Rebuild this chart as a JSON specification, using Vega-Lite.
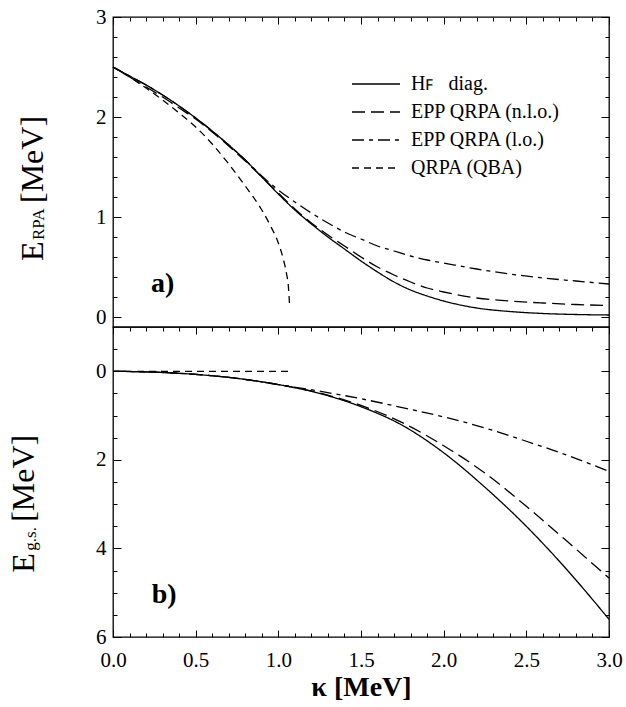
{
  "$schema": "https://vega.github.io/schema/vega-lite/v6.json",
  "background": "white",
  "padding": {"left": 7, "top": 5, "right": 5, "bottom": 5},
  "bounds": "flush",
  "config": {
    "view": {"stroke": "black", "strokeWidth": 1.3},
    "font": "Liberation Serif",
    "axis": {"domain": false, "grid": false, "tickColor": "black", "tickWidth": 1, "labelColor": "black", "labelFont": "Liberation Serif", "labelFontSize": 21, "labelFlush": false, "titleColor": "black"},
    "legend": {"labelFont": "Liberation Serif", "labelFontSize": 20, "labelColor": "black"}
  },
  "datasets": {
    "top": [
      {"kappa": 0, "E": 2.50, "series": "Hꜰ\u00a0\u00a0\u00a0diag."},
      {"kappa": 0.1, "E": 2.41, "series": "Hꜰ\u00a0\u00a0\u00a0diag."},
      {"kappa": 0.2, "E": 2.32, "series": "Hꜰ\u00a0\u00a0\u00a0diag."},
      {"kappa": 0.3, "E": 2.22, "series": "Hꜰ\u00a0\u00a0\u00a0diag."},
      {"kappa": 0.4, "E": 2.11, "series": "Hꜰ\u00a0\u00a0\u00a0diag."},
      {"kappa": 0.5, "E": 1.99, "series": "Hꜰ\u00a0\u00a0\u00a0diag."},
      {"kappa": 0.6, "E": 1.86, "series": "Hꜰ\u00a0\u00a0\u00a0diag."},
      {"kappa": 0.7, "E": 1.72, "series": "Hꜰ\u00a0\u00a0\u00a0diag."},
      {"kappa": 0.8, "E": 1.57, "series": "Hꜰ\u00a0\u00a0\u00a0diag."},
      {"kappa": 0.9, "E": 1.40, "series": "Hꜰ\u00a0\u00a0\u00a0diag."},
      {"kappa": 1.0, "E": 1.23, "series": "Hꜰ\u00a0\u00a0\u00a0diag."},
      {"kappa": 1.1, "E": 1.07, "series": "Hꜰ\u00a0\u00a0\u00a0diag."},
      {"kappa": 1.2, "E": 0.93, "series": "Hꜰ\u00a0\u00a0\u00a0diag."},
      {"kappa": 1.3, "E": 0.80, "series": "Hꜰ\u00a0\u00a0\u00a0diag."},
      {"kappa": 1.4, "E": 0.68, "series": "Hꜰ\u00a0\u00a0\u00a0diag."},
      {"kappa": 1.5, "E": 0.56, "series": "Hꜰ\u00a0\u00a0\u00a0diag."},
      {"kappa": 1.6, "E": 0.45, "series": "Hꜰ\u00a0\u00a0\u00a0diag."},
      {"kappa": 1.7, "E": 0.35, "series": "Hꜰ\u00a0\u00a0\u00a0diag."},
      {"kappa": 1.8, "E": 0.27, "series": "Hꜰ\u00a0\u00a0\u00a0diag."},
      {"kappa": 1.9, "E": 0.21, "series": "Hꜰ\u00a0\u00a0\u00a0diag."},
      {"kappa": 2.0, "E": 0.16, "series": "Hꜰ\u00a0\u00a0\u00a0diag."},
      {"kappa": 2.2, "E": 0.09, "series": "Hꜰ\u00a0\u00a0\u00a0diag."},
      {"kappa": 2.4, "E": 0.055, "series": "Hꜰ\u00a0\u00a0\u00a0diag."},
      {"kappa": 2.6, "E": 0.035, "series": "Hꜰ\u00a0\u00a0\u00a0diag."},
      {"kappa": 2.8, "E": 0.025, "series": "Hꜰ\u00a0\u00a0\u00a0diag."},
      {"kappa": 3.0, "E": 0.02, "series": "Hꜰ\u00a0\u00a0\u00a0diag."},
      {"kappa": 0, "E": 2.50, "series": "EPP QRPA (n.l.o.)"},
      {"kappa": 0.1, "E": 2.40, "series": "EPP QRPA (n.l.o.)"},
      {"kappa": 0.2, "E": 2.30, "series": "EPP QRPA (n.l.o.)"},
      {"kappa": 0.3, "E": 2.20, "series": "EPP QRPA (n.l.o.)"},
      {"kappa": 0.4, "E": 2.09, "series": "EPP QRPA (n.l.o.)"},
      {"kappa": 0.5, "E": 1.98, "series": "EPP QRPA (n.l.o.)"},
      {"kappa": 0.6, "E": 1.85, "series": "EPP QRPA (n.l.o.)"},
      {"kappa": 0.7, "E": 1.71, "series": "EPP QRPA (n.l.o.)"},
      {"kappa": 0.8, "E": 1.56, "series": "EPP QRPA (n.l.o.)"},
      {"kappa": 0.9, "E": 1.40, "series": "EPP QRPA (n.l.o.)"},
      {"kappa": 1.0, "E": 1.24, "series": "EPP QRPA (n.l.o.)"},
      {"kappa": 1.1, "E": 1.08, "series": "EPP QRPA (n.l.o.)"},
      {"kappa": 1.2, "E": 0.94, "series": "EPP QRPA (n.l.o.)"},
      {"kappa": 1.3, "E": 0.82, "series": "EPP QRPA (n.l.o.)"},
      {"kappa": 1.4, "E": 0.71, "series": "EPP QRPA (n.l.o.)"},
      {"kappa": 1.5, "E": 0.60, "series": "EPP QRPA (n.l.o.)"},
      {"kappa": 1.6, "E": 0.50, "series": "EPP QRPA (n.l.o.)"},
      {"kappa": 1.7, "E": 0.42, "series": "EPP QRPA (n.l.o.)"},
      {"kappa": 1.8, "E": 0.35, "series": "EPP QRPA (n.l.o.)"},
      {"kappa": 1.9, "E": 0.29, "series": "EPP QRPA (n.l.o.)"},
      {"kappa": 2.0, "E": 0.25, "series": "EPP QRPA (n.l.o.)"},
      {"kappa": 2.2, "E": 0.19, "series": "EPP QRPA (n.l.o.)"},
      {"kappa": 2.4, "E": 0.16, "series": "EPP QRPA (n.l.o.)"},
      {"kappa": 2.6, "E": 0.14, "series": "EPP QRPA (n.l.o.)"},
      {"kappa": 2.8, "E": 0.125, "series": "EPP QRPA (n.l.o.)"},
      {"kappa": 3.0, "E": 0.115, "series": "EPP QRPA (n.l.o.)"},
      {"kappa": 0, "E": 2.50, "series": "EPP QRPA (l.o.)"},
      {"kappa": 0.1, "E": 2.41, "series": "EPP QRPA (l.o.)"},
      {"kappa": 0.2, "E": 2.32, "series": "EPP QRPA (l.o.)"},
      {"kappa": 0.3, "E": 2.22, "series": "EPP QRPA (l.o.)"},
      {"kappa": 0.4, "E": 2.11, "series": "EPP QRPA (l.o.)"},
      {"kappa": 0.5, "E": 1.99, "series": "EPP QRPA (l.o.)"},
      {"kappa": 0.6, "E": 1.86, "series": "EPP QRPA (l.o.)"},
      {"kappa": 0.7, "E": 1.72, "series": "EPP QRPA (l.o.)"},
      {"kappa": 0.8, "E": 1.57, "series": "EPP QRPA (l.o.)"},
      {"kappa": 0.9, "E": 1.41, "series": "EPP QRPA (l.o.)"},
      {"kappa": 1.0, "E": 1.27, "series": "EPP QRPA (l.o.)"},
      {"kappa": 1.1, "E": 1.15, "series": "EPP QRPA (l.o.)"},
      {"kappa": 1.2, "E": 1.04, "series": "EPP QRPA (l.o.)"},
      {"kappa": 1.3, "E": 0.94, "series": "EPP QRPA (l.o.)"},
      {"kappa": 1.4, "E": 0.85, "series": "EPP QRPA (l.o.)"},
      {"kappa": 1.5, "E": 0.78, "series": "EPP QRPA (l.o.)"},
      {"kappa": 1.6, "E": 0.71, "series": "EPP QRPA (l.o.)"},
      {"kappa": 1.7, "E": 0.66, "series": "EPP QRPA (l.o.)"},
      {"kappa": 1.8, "E": 0.61, "series": "EPP QRPA (l.o.)"},
      {"kappa": 1.9, "E": 0.57, "series": "EPP QRPA (l.o.)"},
      {"kappa": 2.0, "E": 0.54, "series": "EPP QRPA (l.o.)"},
      {"kappa": 2.2, "E": 0.48, "series": "EPP QRPA (l.o.)"},
      {"kappa": 2.4, "E": 0.43, "series": "EPP QRPA (l.o.)"},
      {"kappa": 2.6, "E": 0.39, "series": "EPP QRPA (l.o.)"},
      {"kappa": 2.8, "E": 0.36, "series": "EPP QRPA (l.o.)"},
      {"kappa": 3.0, "E": 0.33, "series": "EPP QRPA (l.o.)"},
      {"kappa": 0, "E": 2.50, "series": "QRPA (QBA)"},
      {"kappa": 0.1, "E": 2.40, "series": "QRPA (QBA)"},
      {"kappa": 0.2, "E": 2.29, "series": "QRPA (QBA)"},
      {"kappa": 0.3, "E": 2.17, "series": "QRPA (QBA)"},
      {"kappa": 0.4, "E": 2.04, "series": "QRPA (QBA)"},
      {"kappa": 0.5, "E": 1.90, "series": "QRPA (QBA)"},
      {"kappa": 0.6, "E": 1.73, "series": "QRPA (QBA)"},
      {"kappa": 0.7, "E": 1.53, "series": "QRPA (QBA)"},
      {"kappa": 0.8, "E": 1.31, "series": "QRPA (QBA)"},
      {"kappa": 0.9, "E": 1.07, "series": "QRPA (QBA)"},
      {"kappa": 0.95, "E": 0.92, "series": "QRPA (QBA)"},
      {"kappa": 1.0, "E": 0.74, "series": "QRPA (QBA)"},
      {"kappa": 1.03, "E": 0.58, "series": "QRPA (QBA)"},
      {"kappa": 1.05, "E": 0.43, "series": "QRPA (QBA)"},
      {"kappa": 1.06, "E": 0.32, "series": "QRPA (QBA)"},
      {"kappa": 1.068, "E": 0.12, "series": "QRPA (QBA)"}
    ],
    "bottom": [
      {"kappa": 0, "E": 0, "series": "Hꜰ\u00a0\u00a0\u00a0diag."},
      {"kappa": 0.25, "E": 0.02, "series": "Hꜰ\u00a0\u00a0\u00a0diag."},
      {"kappa": 0.5, "E": 0.07, "series": "Hꜰ\u00a0\u00a0\u00a0diag."},
      {"kappa": 0.75, "E": 0.16, "series": "Hꜰ\u00a0\u00a0\u00a0diag."},
      {"kappa": 1.0, "E": 0.30, "series": "Hꜰ\u00a0\u00a0\u00a0diag."},
      {"kappa": 1.25, "E": 0.50, "series": "Hꜰ\u00a0\u00a0\u00a0diag."},
      {"kappa": 1.5, "E": 0.80, "series": "Hꜰ\u00a0\u00a0\u00a0diag."},
      {"kappa": 1.75, "E": 1.22, "series": "Hꜰ\u00a0\u00a0\u00a0diag."},
      {"kappa": 2.0, "E": 1.84, "series": "Hꜰ\u00a0\u00a0\u00a0diag."},
      {"kappa": 2.25, "E": 2.62, "series": "Hꜰ\u00a0\u00a0\u00a0diag."},
      {"kappa": 2.5, "E": 3.50, "series": "Hꜰ\u00a0\u00a0\u00a0diag."},
      {"kappa": 2.75, "E": 4.50, "series": "Hꜰ\u00a0\u00a0\u00a0diag."},
      {"kappa": 3.0, "E": 5.60, "series": "Hꜰ\u00a0\u00a0\u00a0diag."},
      {"kappa": 0, "E": 0, "series": "EPP QRPA (n.l.o.)"},
      {"kappa": 0.25, "E": 0.02, "series": "EPP QRPA (n.l.o.)"},
      {"kappa": 0.5, "E": 0.07, "series": "EPP QRPA (n.l.o.)"},
      {"kappa": 0.75, "E": 0.16, "series": "EPP QRPA (n.l.o.)"},
      {"kappa": 1.0, "E": 0.30, "series": "EPP QRPA (n.l.o.)"},
      {"kappa": 1.25, "E": 0.49, "series": "EPP QRPA (n.l.o.)"},
      {"kappa": 1.5, "E": 0.77, "series": "EPP QRPA (n.l.o.)"},
      {"kappa": 1.75, "E": 1.16, "series": "EPP QRPA (n.l.o.)"},
      {"kappa": 2.0, "E": 1.68, "series": "EPP QRPA (n.l.o.)"},
      {"kappa": 2.25, "E": 2.30, "series": "EPP QRPA (n.l.o.)"},
      {"kappa": 2.5, "E": 3.05, "series": "EPP QRPA (n.l.o.)"},
      {"kappa": 2.75, "E": 3.85, "series": "EPP QRPA (n.l.o.)"},
      {"kappa": 3.0, "E": 4.67, "series": "EPP QRPA (n.l.o.)"},
      {"kappa": 0, "E": 0, "series": "EPP QRPA (l.o.)"},
      {"kappa": 0.25, "E": 0.02, "series": "EPP QRPA (l.o.)"},
      {"kappa": 0.5, "E": 0.07, "series": "EPP QRPA (l.o.)"},
      {"kappa": 0.75, "E": 0.16, "series": "EPP QRPA (l.o.)"},
      {"kappa": 1.0, "E": 0.30, "series": "EPP QRPA (l.o.)"},
      {"kappa": 1.25, "E": 0.45, "series": "EPP QRPA (l.o.)"},
      {"kappa": 1.5, "E": 0.62, "series": "EPP QRPA (l.o.)"},
      {"kappa": 1.75, "E": 0.82, "series": "EPP QRPA (l.o.)"},
      {"kappa": 2.0, "E": 1.03, "series": "EPP QRPA (l.o.)"},
      {"kappa": 2.25, "E": 1.28, "series": "EPP QRPA (l.o.)"},
      {"kappa": 2.5, "E": 1.58, "series": "EPP QRPA (l.o.)"},
      {"kappa": 2.75, "E": 1.90, "series": "EPP QRPA (l.o.)"},
      {"kappa": 3.0, "E": 2.26, "series": "EPP QRPA (l.o.)"},
      {"kappa": 0, "E": 0, "series": "QRPA (QBA)"},
      {"kappa": 0.5, "E": 0, "series": "QRPA (QBA)"},
      {"kappa": 1.07, "E": 0, "series": "QRPA (QBA)"}
    ]
  },
  "spacing": 0,
  "resolve": {"scale": {"strokeDash": "independent"}, "legend": {"strokeDash": "independent"}},
  "vconcat": [
    {
      "width": 496,
      "height": 310,
      "resolve": {"axis": {"x": "independent", "y": "independent"}},
      "layer": [
        {
          "data": {"name": "top"},
          "mark": {"type": "line", "color": "black", "strokeWidth": 1.3, "interpolate": "monotone"},
          "encoding": {
            "x": {"field": "kappa", "type": "quantitative", "scale": {"domain": [0, 3], "nice": false, "zero": false},
              "axis": {"orient": "top", "title": null, "labels": false,
                "values": [0,0.1,0.2,0.3,0.4,0.5,0.6,0.7,0.8,0.9,1,1.1,1.2,1.3,1.4,1.5,1.6,1.7,1.8,1.9,2,2.1,2.2,2.3,2.4,2.5,2.6,2.7,2.8,2.9,3],
                "tickSize": {"condition": {"test": "abs(datum.value*2 - round(datum.value*2)) < 1e-6", "value": -7}, "value": -4}}},
            "y": {"field": "E", "type": "quantitative", "scale": {"domain": [-0.1, 3], "nice": false, "zero": false},
              "axis": {"orient": "left", "title": null, "labelPadding": 15, "labelOverlap": false, "labelFont": "Liberation Serif",
                "values": [0,0.2,0.4,0.6,0.8,1,1.2,1.4,1.6,1.8,2,2.2,2.4,2.6,2.8,3],
                "labelExpr": "abs(datum.value - round(datum.value)) < 1e-6 ? format(datum.value, 'd') : ''",
                "tickSize": {"condition": {"test": "abs(datum.value - round(datum.value)) < 1e-6", "value": -8}, "value": -4}}},
            "strokeDash": {"field": "series", "type": "nominal",
              "scale": {"domain": ["Hꜰ\u00a0\u00a0\u00a0diag.", "EPP QRPA (n.l.o.)", "EPP QRPA (l.o.)", "QRPA (QBA)"], "range": [[1, 0], [13, 6], [12, 5, 4, 5], [7, 5]]},
              "legend": {"title": null, "orient": "none", "legendX": 253, "legendY": 57, "padding": 0,
                "symbolType": "M-4,0H4", "symbolSize": 144, "symbolStrokeWidth": 1.3, "symbolStrokeColor": "black",
                "labelOffset": 25, "rowPadding": 8, "labelFont": "Liberation Serif"}}
          }
        },
        {
          "data": {"values": [{}]},
          "mark": {"type": "text", "fontWeight": "bold", "fontSize": 28, "font": "Liberation Serif", "color": "black", "align": "center", "baseline": "middle"},
          "encoding": {
            "x": {"datum": 0.30, "type": "quantitative", "axis": null},
            "y": {"datum": 0.33, "type": "quantitative",
              "axis": {"orient": "right", "title": null, "labels": false,
                "values": [0,0.2,0.4,0.6,0.8,1,1.2,1.4,1.6,1.8,2,2.2,2.4,2.6,2.8,3],
                "tickSize": {"condition": {"test": "abs(datum.value - round(datum.value)) < 1e-6", "value": -8}, "value": -4}}},
            "text": {"value": "a)"}
          }
        },
        {
          "data": {"values": [{}]},
          "mark": {"type": "text", "fontSize": 32, "font": "Liberation Serif", "color": "black", "align": "left", "baseline": "alphabetic", "angle": 270},
          "encoding": {
            "x": {"datum": -0.423, "type": "quantitative", "axis": null},
            "y": {"datum": 0.56, "type": "quantitative", "axis": null},
            "text": {"value": "E"}
          }
        },
        {
          "data": {"values": [{}]},
          "mark": {"type": "text", "fontSize": 17, "font": "Liberation Serif", "color": "black", "align": "left", "baseline": "alphabetic", "angle": 270},
          "encoding": {
            "x": {"datum": -0.415, "type": "quantitative", "axis": null},
            "y": {"datum": 0.77, "type": "quantitative", "axis": null},
            "text": {"value": "RPA"}
          }
        },
        {
          "data": {"values": [{}]},
          "mark": {"type": "text", "fontSize": 32, "font": "Liberation Serif", "color": "black", "align": "left", "baseline": "alphabetic", "angle": 270},
          "encoding": {
            "x": {"datum": -0.423, "type": "quantitative", "axis": null},
            "y": {"datum": 1.14, "type": "quantitative", "axis": null},
            "text": {"value": "[MeV]"}
          }
        }
      ]
    },
    {
      "width": 496,
      "height": 310,
      "resolve": {"axis": {"x": "independent", "y": "independent"}},
      "layer": [
        {
          "data": {"name": "bottom"},
          "mark": {"type": "line", "color": "black", "strokeWidth": 1.3, "interpolate": "monotone"},
          "encoding": {
            "x": {"field": "kappa", "type": "quantitative", "scale": {"domain": [0, 3], "nice": false, "zero": false},
              "axis": {"orient": "bottom", "title": "κ  [MeV]", "titleFont": "Liberation Serif", "titleFontSize": 28, "titleFontWeight": "bold", "titlePadding": 0,
                "labelPadding": 19, "labelOverlap": false, "labelFont": "Liberation Serif",
                "values": [0,0.1,0.2,0.3,0.4,0.5,0.6,0.7,0.8,0.9,1,1.1,1.2,1.3,1.4,1.5,1.6,1.7,1.8,1.9,2,2.1,2.2,2.3,2.4,2.5,2.6,2.7,2.8,2.9,3],
                "labelExpr": "abs(datum.value*2 - round(datum.value*2)) < 1e-6 ? format(datum.value, '.1f') : ''",
                "tickSize": {"condition": {"test": "abs(datum.value*2 - round(datum.value*2)) < 1e-6", "value": -7}, "value": -4}}},
            "y": {"field": "E", "type": "quantitative", "scale": {"domain": [-1, 6], "nice": false, "zero": false, "reverse": true},
              "axis": {"orient": "left", "title": null, "labelPadding": 15, "labelOverlap": false, "labelFont": "Liberation Serif",
                "values": [-0.5,0,0.5,1,1.5,2,2.5,3,3.5,4,4.5,5,5.5,6],
                "labelExpr": "abs(datum.value/2 - round(datum.value/2)) < 1e-6 ? format(datum.value, 'd') : ''",
                "tickSize": {"condition": {"test": "abs(datum.value/2 - round(datum.value/2)) < 1e-6", "value": -8}, "value": -4}}},
            "strokeDash": {"field": "series", "type": "nominal",
              "scale": {"domain": ["Hꜰ\u00a0\u00a0\u00a0diag.", "EPP QRPA (n.l.o.)", "EPP QRPA (l.o.)", "QRPA (QBA)"], "range": [[1, 0], [13, 6], [12, 5, 4, 5], [7, 5]]},
              "legend": null}
          }
        },
        {
          "data": {"values": [{}]},
          "mark": {"type": "text", "fontWeight": "bold", "fontSize": 28, "font": "Liberation Serif", "color": "black", "align": "center", "baseline": "middle"},
          "encoding": {
            "x": {"datum": 0.31, "type": "quantitative",
              "axis": {"orient": "top", "title": null, "labels": false,
                "values": [0,0.1,0.2,0.3,0.4,0.5,0.6,0.7,0.8,0.9,1,1.1,1.2,1.3,1.4,1.5,1.6,1.7,1.8,1.9,2,2.1,2.2,2.3,2.4,2.5,2.6,2.7,2.8,2.9,3],
                "tickSize": {"condition": {"test": "abs(datum.value*2 - round(datum.value*2)) < 1e-6", "value": -7}, "value": -4}}},
            "y": {"datum": 5.06, "type": "quantitative",
              "axis": {"orient": "right", "title": null, "labels": false,
                "values": [-0.5,0,0.5,1,1.5,2,2.5,3,3.5,4,4.5,5,5.5,6],
                "tickSize": {"condition": {"test": "abs(datum.value/2 - round(datum.value/2)) < 1e-6", "value": -8}, "value": -4}}},
            "text": {"value": "b)"}
          }
        },
        {
          "data": {"values": [{}]},
          "mark": {"type": "text", "fontSize": 32, "font": "Liberation Serif", "color": "black", "align": "left", "baseline": "alphabetic", "angle": 270},
          "encoding": {
            "x": {"datum": -0.478, "type": "quantitative", "axis": null},
            "y": {"datum": 4.55, "type": "quantitative", "axis": null},
            "text": {"value": "E"}
          }
        },
        {
          "data": {"values": [{}]},
          "mark": {"type": "text", "fontSize": 17, "font": "Liberation Serif", "color": "black", "align": "left", "baseline": "alphabetic", "angle": 270},
          "encoding": {
            "x": {"datum": -0.466, "type": "quantitative", "axis": null},
            "y": {"datum": 4.05, "type": "quantitative", "axis": null},
            "text": {"value": "g.s."}
          }
        },
        {
          "data": {"values": [{}]},
          "mark": {"type": "text", "fontSize": 32, "font": "Liberation Serif", "color": "black", "align": "left", "baseline": "alphabetic", "angle": 270},
          "encoding": {
            "x": {"datum": -0.478, "type": "quantitative", "axis": null},
            "y": {"datum": 3.40, "type": "quantitative", "axis": null},
            "text": {"value": "[MeV]"}
          }
        }
      ]
    }
  ]
}
